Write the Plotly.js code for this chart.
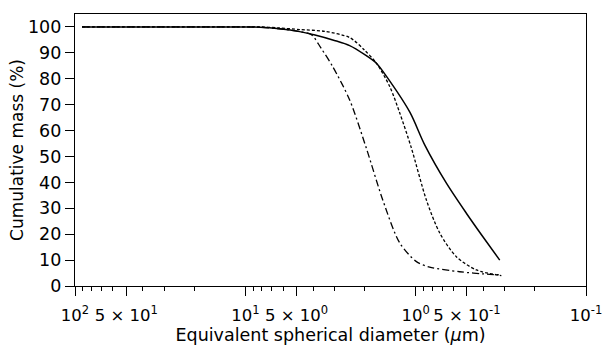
<!DOCTYPE html>
<html>
<head>
<meta charset="utf-8">
<script src="https://cdn.plot.ly/plotly-3.0.1.min.js"></script>
<style>html,body{margin:0;padding:0;background:#fff;}#chart{width:608px;height:355px;}</style>
</head>
<body>
<div id="chart"></div>
<script>
// Solid curve
const solidX = [91, 30, 15, 8.2, 6.3, 4.8, 3.9, 3.0, 2.44, 2.0, 1.70, 1.48, 1.08, 0.885, 0.66, 0.504, 0.403, 0.321];
const solidY = [100, 100, 100, 99.9, 99.3, 98.2, 96.9, 94.8, 92.8, 89.4, 86.0, 80.8, 67.0, 54.5, 39.7, 28.1, 19.0, 10.0];
// Dashed curve
const dashX = [91, 30, 15, 8.2, 6.3, 4.79, 3.42, 2.44, 2.0, 1.70, 1.42, 1.24, 1.06, 0.865, 0.723, 0.577, 0.44, 0.314];
const dashY = [100, 100, 100, 100, 99.6, 99.0, 98.3, 95.9, 91.1, 86.0, 77.0, 66.8, 53.3, 33.2, 20.5, 11.3, 6.2, 4.0];
// Dash-dot curve
const dotX = [91, 30, 15, 8.2, 6.3, 4.79, 4.09, 3.6, 3.07, 2.44, 1.95, 1.56, 1.24, 0.99, 0.828, 0.552, 0.368, 0.314];
const dotY = [100, 100, 100, 99.9, 99.3, 98.2, 97.0, 91.9, 84.7, 71.8, 53.3, 33.2, 16.6, 9.4, 7.3, 5.5, 4.5, 4.3];

const tickVals = [100, 50, 10, 5, 1, 0.5, 0.1];
const tickText = ['10<sup>2</sup>', '5 × 10<sup>1</sup>', '10<sup>1</sup>', '5 × 10<sup>0</sup>', '10<sup>0</sup>', '5 × 10<sup>-1</sup>', '10<sup>-1</sup>'];
const minorVals = [90, 80, 70, 60, 40, 30, 20, 9, 8, 7, 6, 4, 3, 2, 0.9, 0.8, 0.7, 0.6, 0.4, 0.3, 0.2];
const yTicks = [0, 10, 20, 30, 40, 50, 60, 70, 80, 90, 100];

const fam = 'DejaVu Sans, Arial, sans-serif';

const traces = [
  {x: solidX, y: solidY, mode: 'lines', line: {color: '#000', width: 1.5, dash: 'solid', shape: 'spline', smoothing: 0.8}},
  {x: dashX, y: dashY, mode: 'lines', line: {color: '#000', width: 1.3, dash: '3px,2px', shape: 'spline', smoothing: 0.8}},
  {x: dotX, y: dotY, mode: 'lines', line: {color: '#000', width: 1.3, dash: '7px,3px,2px,3px', shape: 'spline', smoothing: 0.8}}
];

const layout = {
  width: 608, height: 355,
  margin: {l: 75, r: 22, t: 14, b: 69},
  paper_bgcolor: '#fff', plot_bgcolor: '#fff',
  showlegend: false,
  font: {family: fam, size: 16, color: '#000'},
  xaxis: {
    type: 'log', range: [2, -1],
    tickmode: 'array', tickvals: tickVals, ticktext: tickText,
    tickangle: 0,
    ticks: 'outside', ticklen: 9, tickwidth: 1, tickcolor: '#000',
    ticklabelstandoff: 5,
    minor: {tickmode: 'array', tickvals: minorVals, ticks: 'outside', ticklen: 4, tickwidth: 1, tickcolor: '#000', showgrid: false},
    showline: true, linecolor: '#000', linewidth: 1.2, mirror: true,
    showgrid: false, zeroline: false,
    tickfont: {family: fam, size: 16.5, color: '#000'},
    title: {text: 'Equivalent spherical diameter (<i>μ</i>m)', font: {family: fam, size: 17.5, color: '#000'}, standoff: 0}
  },
  yaxis: {
    range: [0, 105], tickmode: 'array', tickvals: yTicks,
    ticks: 'outside', ticklen: 9, tickwidth: 1, tickcolor: '#000',
    showline: true, linecolor: '#000', linewidth: 1.2, mirror: true,
    showgrid: false, zeroline: false,
    tickfont: {family: fam, size: 17.5, color: '#000'},
    title: {text: 'Cumulative mass (%)', font: {family: fam, size: 17, color: '#000'}, standoff: 0}
  }
};

Plotly.newPlot('chart', traces, layout, {displayModeBar: false, staticPlot: true});
</script>
</body>
</html>
